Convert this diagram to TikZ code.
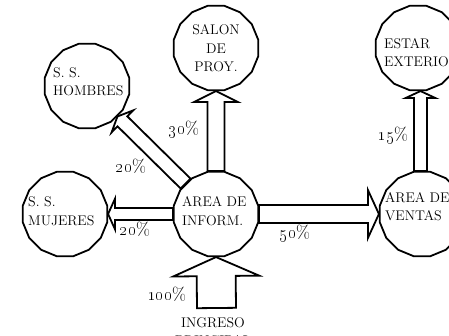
\documentclass[tikz,border=0pt]{standalone}
\usetikzlibrary{shapes.geometric,calc}
\tikzset{
  place/.style={draw, line width=1.8pt, regular polygon, regular polygon sides=16,
    minimum size=86pt, inner sep=0pt},
  ptext/.style={inner sep=0pt, font=\fontsize{14}{18.5}\selectfont},
  pct/.style={inner sep=0pt, font=\fontsize{18}{20}\selectfont},
  flow/.style={draw, line width=1.8pt, line join=miter}
}
\newcommand\blockarr[6]{%
  \coordinate (#6h) at ($(#2)!#5!(#1)$);
  \draw[flow] ($(#1)!#3!90:(#2)$) -- ($(#6h)!#3!90:(#2)$) -- ($(#6h)!#4!90:(#2)$)
    -- (#2) -- ($(#6h)!#4!-90:(#2)$) -- ($(#6h)!#3!-90:(#2)$)
    -- ($(#1)!#3!-90:(#2)$) -- cycle;}
\begin{document}
\begin{tikzpicture}[x=1pt,y=-1pt]
\path[fill=white, use as bounding box] (0,0) rectangle (449,335);
% places
\node[place] (hom) at (87,86) {};
\node[place] (sal) at (216,48) {};
\node[place] (est) at (418,48) {};
\node[place] (muj) at (65,214) {};
\node[place] (inf) at (216,214) {};
\node[place] (ven) at (422,214) {};
% texts
\node[ptext, anchor=west, align=left] (homt) at (53,81.5) {S. S.\\HOMBRES};
\node[ptext, align=center] (salt) at (216,48.5) {SALON\\DE\\PROY.};
\node[ptext, anchor=west, align=left] (estt) at (384,52.5) {ESTAR\\EXTERIOR};
\node[ptext, anchor=west, align=left] (mujt) at (28,211) {S. S.\\MUJERES};
\node[ptext, anchor=west, align=left] (inft) at (182,211) {AREA DE\\INFORM.};
\node[ptext, anchor=west, align=left] (vent) at (385,206.5) {AREA DE\\VENTAS};
\node[ptext, anchor=north, align=center] (ingt) at (213,317.4) {INGRESO\\PRINCIPAL};
% flows
\coordinate (vs) at ($(ven.north)+(-1.5,0)$);
\coordinate (et) at ($(est.south)+(2.5,0)$);
\coordinate (ing) at (216.5,308);
\blockarr{inf.north}{sal.south}{8.5pt}{22pt}{11pt}{a}
\blockarr{vs}{et}{6.5pt}{15pt}{7pt}{b}
\blockarr{inf.east}{ven.west}{9pt}{24pt}{11pt}{c}
\blockarr{inf.west}{muj.east}{6pt}{15.5pt}{7pt}{d}
\blockarr{inf.135}{hom.-45}{7pt}{15.5pt}{7pt}{e}
\blockarr{ing}{inf.south}{19.5pt}{43pt}{19pt}{f}
% percentages
\node[pct] (p30) at (184,129) {\oldstylenums{30}\%};
\node[pct] (p15) at (393,135) {\oldstylenums{15}\%};
\node[pct] (p20a) at (131,166) {\oldstylenums{20}\%};
\node[pct] (p20b) at (135,229) {\oldstylenums{20}\%};
\node[pct] (p50) at (295,233) {\oldstylenums{50}\%};
\node[pct] (p100) at (167,294) {\oldstylenums{100}\%};
\end{tikzpicture}
\end{document}
